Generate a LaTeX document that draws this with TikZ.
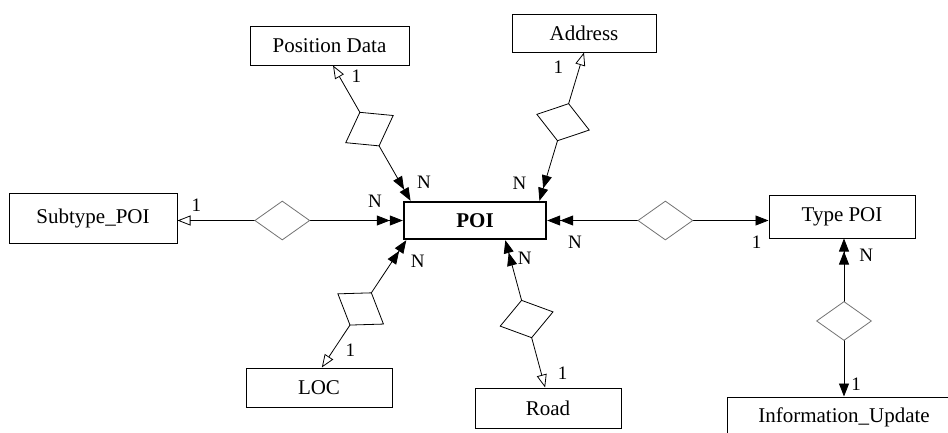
\documentclass[tikz,border=0pt]{standalone}
\usepackage{fontspec}
\setmainfont{Liberation Serif}
\usetikzlibrary{arrows.meta, shapes.geometric}
\newcommand{\entfont}{\fontsize{21pt}{25pt}\selectfont}
\newcommand{\cardfont}{\fontsize{19pt}{22pt}\selectfont}
\tikzstyle{entity} = [%
  rectangle,
  draw=black,
  line width=1pt,
  minimum height=39pt,
  inner sep=0pt,
  align=center,
  fill=white,
  font=\entfont
]
\tikzstyle{rel} = [%
  diamond,
  draw=black,
  line width=0.8pt,
  minimum width=39pt,
  minimum height=55pt,
  inner sep=0pt,
  fill=white,
  sloped
]
\tikzstyle{card} = [%
  font=\cardfont,
  inner sep=0pt
]

\begin{document}
\begin{tikzpicture}[%
  x=1pt, y=-1pt,
  line width=0.8pt,
  tipo/.tip={Triangle[open,length=13pt,width=10pt]},
  tipf/.tip={Triangle[length=13pt,width=10pt]},
  tipn/.tip={Triangle[length=13pt,width=10pt]Triangle[length=13pt,width=10pt]},
  flat/.style={draw=black!55}
]
  \useasboundingbox (0,0) rectangle (948,432);

  % Entities
  \node[entity,line width=2.4pt,minimum width=142pt,minimum height=37pt] (POI) at (475,220.5) {\textbf{POI}};
  \node[entity,minimum width=159pt] (PD) at (329.5,45.5) {Position Data};
  \node[entity,minimum width=144pt,minimum height=38pt] (Addr) at (584,33) {Address};
  \node[entity,minimum width=168pt,minimum height=50pt] (Sub) at (93,218) {Subtype\_POI};
  \node[entity,minimum width=146pt,minimum height=43pt] (TPOI) at (842,216.5) {Type POI};
  \node[entity,minimum width=146pt] (LOC) at (319,387.5) {LOC};
  \node[entity,minimum width=146pt,minimum height=40pt] (Road) at (548,408) {Road};
  \node[entity,minimum width=234pt,minimum height=40pt] (Info) at (844,417) {Information\_Update};

  % Relationships
  \draw[tipo-tipn] (PD.-80) -- node[rel,pos=0.47] (R1) {}
    node[card,pos=0.08,right=12pt] {1}
    node[card,pos=0.86,right=17pt] {N} (POI.163);
  \draw[tipo-tipn] (Addr.south) -- node[rel,pos=0.47] (R2) {}
    node[card,pos=0.1,left=16pt] {1}
    node[card,pos=0.88,left=18pt] {N} (POI.17);
  \draw[tipo-tipn] (POI.west -| Sub.east) -- node[rel,flat,minimum width=55pt,minimum height=39pt,pos=0.465] (R3) {}
    node[card,pos=0.084,above=8.5pt] {1}
    node[card,pos=0.876,above=13pt] {N} (POI.west);
  \draw[tipo-tipn] (LOC.82) -- node[rel,pos=0.46] (R4) {}
    node[card,pos=0.135,right=12pt] {1}
    node[card,pos=0.836,right=18pt] {N} (POI.196);
  \draw[tipo-tipn] (Road.98) -- node[rel,pos=0.465] (R5) {}
    node[card,pos=0.094,right=16pt] {1}
    node[card,pos=0.874,right=7pt] {N} (POI.-33);
  \draw[tipf-tipn] (POI.east -| TPOI.west) -- node[rel,flat,minimum width=55pt,minimum height=39pt,pos=0.466] (R6) {}
    node[card,pos=0.054,below=15pt] {1}
    node[card,pos=0.874,below=15pt] {N} (POI.east);
  \draw[tipf-tipn] (Info.north) -- node[rel,flat,pos=0.478] (R7) {}
    node[card,pos=0.079,right=7pt] {1}
    node[card,pos=0.897,right=15pt] {N} (Info.north |- TPOI.south);

\end{tikzpicture}
\end{document}
